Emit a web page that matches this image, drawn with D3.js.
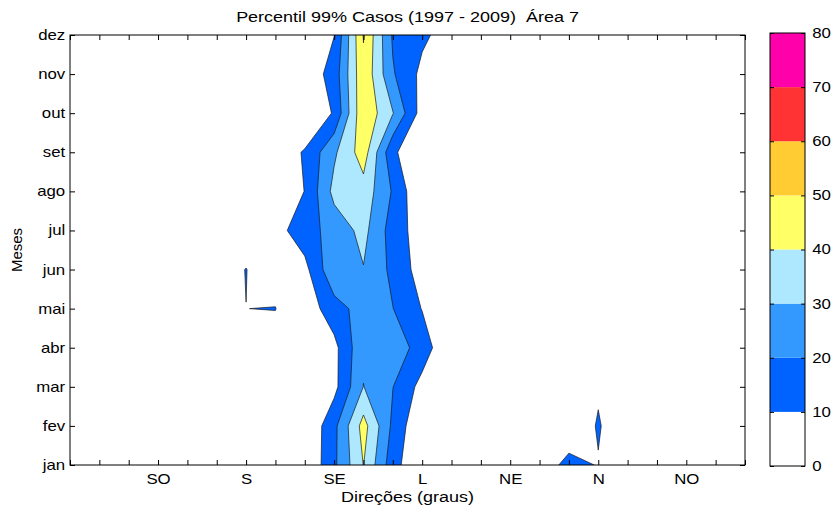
<!DOCTYPE html>
<html>
<head>
<meta charset="utf-8">
<script src="https://cdn.jsdelivr.net/npm/d3@7"></script>
<style>
  body { margin: 0; background: #fff; }
  svg text { font-family: "Liberation Sans", Arial, Helvetica, sans-serif; fill: #000; }
</style>
</head>
<body>
<svg id="chart" width="831" height="507"></svg>
<script>
// ---------------- DATA ----------------
const titleText = "Percentil 99% Casos (1997 - 2009)  Área 7";
const xLabelText = "Direções (graus)";
const yLabelText = "Meses";

const months = ["jan","fev","mar","abr","mai","jun","jul","ago","set","out","nov","dez"];
// direction of each grid column (degrees), left to right
const directions = [270,255,240,225,210,195,180,165,150,135,120,105,90,75,60,45,30,15,0,345,330,315,300,285];
const dirTickDegrees = [225,180,135,90,45,0,315];
const dirTickLabels  = ["SO","S","SE","L","NE","N","NO"];

// 99th percentile values, one array per month, one value per direction column
const p99Jan = [0,0,0,0,0,0,0,0,0,18,40.2,14,0,0,0,3,8.1,11,9.84,5,0,0,0,0];
const p99Fev = [0,0,0,0,0,0,0,0,0,17.3,43.8,17.8,0.5,0,0,0,4,7.7,10.26,7.7,2,0,0,0];
const p99Mar = [0,0,0,0,0,0,0,0,2,7,30.2,20.2,6.6,0,0,0,0,5,9.63,5,0,0,0,0];
const p99Abr = [0,0,0,0,0,3,5,7,5,7,28,26,15.5,0,0,0,0,0,0,0,0,0,0,0];
const p99Mai = [0,0,0,0,0,5,9.98,10.15,3.5,16,24,20.2,9.6,0,0,0,0,0,0,0,0,0,0,0];
const p99Jun = [0,0,0,0,0,8,10.1,7,7.1,27.9,29.6,17.5,5.4,0,0,0,0,0,0,0,0,0,0,0];
const p99Jul = [0,0,0,0,0,3,7.5,6.3,15.5,24,33,15.4,4.8,0,0,0,0,0,0,0,0,0,0,0];
const p99Ago = [0,0,0,0,0,0,0,2,10.2,33,36,19,0,0,0,0,0,0,0,0,0,0,0,0];
const p99Set = [0,0,0,0,0,0,0,3.3,11,28.3,45,12,0,0,0,0,0,0,0,0,0,0,0,0];
const p99Out = [0,0,0,0,0,0,0,0,0,11,48.5,30.5,5.5,0,0,0,0,0,0,0,0,0,0,0];
const p99Nov = [0,0,0,0,0,0,0,0,2.8,14.2,48,21,7.4,0,0,0,0,0,0,0,0,0,0,0];
const p99Dez = [0,0,0,0,0,0,0,0,3,9.8,50.5,18.7,12,5,0,0,0,0,0,0,0,0,0,0];

const contourLevels = [10,20,30,40,50,60,70];
const colorbarTicks = [0,10,20,30,40,50,60,70,80];
const bandColors = ["#ffffff","#0062ff","#3399ff","#aee8ff","#ffff66","#ffcc33","#ff3333","#ff00aa"];

// ---------------- LAYOUT ----------------
const plot = { left: 70, right: 745, top: 35, bottom: 465 };
const cbar = { left: 770, right: 805, top: 33, bottom: 466 };
const stretch = "scale(1.2,1)";
const svg = d3.select("#chart");

const x = d3.scaleLinear().domain([0, directions.length - 1]).range([plot.left, plot.right]);
const y = d3.scaleLinear().domain([0, months.length - 1]).range([plot.bottom, plot.top]);

svg.append("defs").append("clipPath").attr("id", "plotClip")
  .append("rect")
  .attr("x", plot.left).attr("y", plot.top)
  .attr("width", plot.right - plot.left).attr("height", plot.bottom - plot.top);

// ---------------- CONTOURS ----------------
const rows = [p99Jan,p99Fev,p99Mar,p99Abr,p99Mai,p99Jun,p99Jul,p99Ago,p99Set,p99Out,p99Nov,p99Dez];
const grid = rows.flat();
const contours = d3.contours()
  .size([directions.length, months.length])
  .thresholds(contourLevels)(grid);

const gridToPixel = d3.geoTransform({
  point: function(gx, gy) { this.stream.point(x(gx - 0.5), y(gy - 0.5)); }
});
const path = d3.geoPath(gridToPixel);

svg.append("g").attr("clip-path", "url(#plotClip)")
  .selectAll("path").data(contours).join("path")
  .attr("d", path)
  .attr("fill", d => bandColors[contourLevels.indexOf(d.value) + 1])
  .attr("stroke", "#1a1a1a")
  .attr("stroke-width", 0.7)
  .attr("stroke-linejoin", "miter");

// ---------------- AXES ----------------
const tickFont = 14;
const labelByDeg = new Map(dirTickDegrees.map((d, k) => [d, dirTickLabels[k]]));
const colIdx = d3.range(directions.length);
const monthIdx = d3.range(months.length);

function styleAxis(g) {
  g.select(".domain").remove();
  g.selectAll(".tick line").attr("stroke", "#000").attr("stroke-width", 1);
  g.selectAll("text").attr("font-size", tickFont)
    .attr("font-family", '"Liberation Sans", Arial, Helvetica, sans-serif')
    .attr("transform", stretch);
  g.attr("font-family", null).attr("font-size", null);
}

svg.append("g").attr("transform", `translate(0,${plot.bottom})`)
  .call(d3.axisBottom(x).tickValues(colIdx).tickSize(-5).tickPadding(9)
    .tickFormat(i => labelByDeg.get(directions[i]) || ""))
  .call(styleAxis);
svg.append("g").attr("transform", `translate(0,${plot.top})`)
  .call(d3.axisTop(x).tickValues(colIdx).tickSize(-5).tickFormat(() => ""))
  .call(styleAxis);
svg.append("g").attr("transform", `translate(${plot.left},0)`)
  .call(d3.axisLeft(y).tickValues(monthIdx).tickSize(-5).tickPadding(4)
    .tickFormat(i => months[i]))
  .call(styleAxis);
svg.append("g").attr("transform", `translate(${plot.right},0)`)
  .call(d3.axisRight(y).tickValues(monthIdx).tickSize(-5).tickFormat(() => ""))
  .call(styleAxis);

svg.append("rect")
  .attr("x", plot.left).attr("y", plot.top)
  .attr("width", plot.right - plot.left).attr("height", plot.bottom - plot.top)
  .attr("fill", "none").attr("stroke", "#000").attr("stroke-width", 1);

// ---------------- TITLES ----------------
svg.append("text")
  .attr("transform", `translate(${(plot.left + plot.right) / 2},22) ${stretch}`)
  .attr("text-anchor", "middle").attr("font-size", 15)
  .style("white-space", "pre").text(titleText);
svg.append("text")
  .attr("transform", `translate(${(plot.left + plot.right) / 2},502) ${stretch}`)
  .attr("text-anchor", "middle").attr("font-size", 15).text(xLabelText);
svg.append("text").attr("transform", `translate(22,${(plot.top + plot.bottom) / 2}) rotate(-90)`)
  .attr("text-anchor", "middle").attr("font-size", 15).text(yLabelText);

// ---------------- COLORBAR ----------------
const c = d3.scaleLinear().domain([0, 80]).range([cbar.bottom, cbar.top]);
svg.append("g").selectAll("rect")
  .data(d3.range(colorbarTicks.length - 1))
  .join("rect")
  .attr("x", cbar.left)
  .attr("y", k => c(colorbarTicks[k + 1]))
  .attr("width", cbar.right - cbar.left)
  .attr("height", k => c(colorbarTicks[k]) - c(colorbarTicks[k + 1]))
  .attr("fill", k => bandColors[k]);
svg.append("g").attr("transform", `translate(${cbar.right},0)`)
  .call(d3.axisRight(c).tickValues(colorbarTicks).tickSize(-4).tickPadding(6))
  .call(styleAxis);
svg.append("g").attr("transform", `translate(${cbar.left},0)`)
  .call(d3.axisLeft(c).tickValues(colorbarTicks).tickSize(-4).tickFormat(() => ""))
  .call(styleAxis);
svg.append("rect")
  .attr("x", cbar.left).attr("y", cbar.top)
  .attr("width", cbar.right - cbar.left).attr("height", cbar.bottom - cbar.top)
  .attr("fill", "none").attr("stroke", "#000").attr("stroke-width", 1);
</script>
</body>
</html>
